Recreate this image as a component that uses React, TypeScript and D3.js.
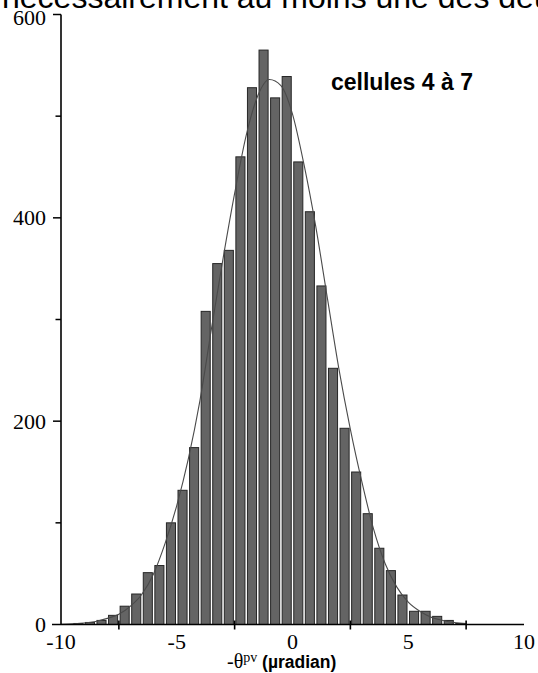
import React from 'react';
import * as d3 from 'd3';

// Histogram bins (lower edges, width 0.5 µradian) and counts
const binLo = [-9.5, -9, -8.5, -8, -7.5, -7, -6.5, -6, -5.5, -5, -4.5, -4, -3.5, -3, -2.5, -2, -1.5, -1, -0.5, 0, 0.5, 1, 1.5, 2, 2.5, 3, 3.5, 4, 4.5, 5, 5.5, 6, 6.5, 7];
const counts = [1, 2, 4, 9, 18, 30, 51, 58, 100, 132, 174, 308, 355, 368, 460, 528, 565, 518, 539, 455, 406, 333, 252, 193, 150, 109, 75, 53, 29, 13, 13, 8, 4, 1];
const binWidth = 0.5;

// Fitted curve
const fitX = [-10, -9.5, -9, -8.5, -8, -7.5, -7, -6.5, -6, -5.5, -5, -4.5, -4, -3.5, -3, -2.5, -2, -1.5, -1, -0.5, 0, 0.5, 1, 1.5, 2, 2.5, 3, 3.5, 4, 4.5, 5, 5.5, 6, 6.5, 7, 7.5];
const fitY = [0.3, 0.7, 1.4, 3, 6, 10, 18, 30, 50, 80, 117, 163, 220, 291, 360, 424, 481, 520, 536, 530, 502, 452, 392, 322, 252, 192, 140, 94, 60, 37, 22, 13, 7, 4, 2, 1];

const xLabels = [-10, -5, 0, 5, 10];
const xMinorTicks = [-7.5, -2.5, 2.5, 7.5];
const yLabels = [0, 200, 400, 600];
const yMinorTicks = [100, 300, 500];

const headerText = 'nécessairement au moins une des deux';
const panelLabel = 'cellules 4 à 7';

export default function App() {
  const W = 538, H = 673;
  const x = d3.scaleLinear().domain([-10, 10]).range([61, 524]);
  const y = d3.scaleLinear().domain([0, 600]).range([624.5, 14.5]);
  const line = d3.line<number>()
    .x((_, i) => x(fitX[i]))
    .y((d) => y(d))
    .curve(d3.curveMonotoneX);

  const serif = '"Liberation Serif", "Times New Roman", serif';
  const sans = '"Liberation Sans", Arial, sans-serif';

  return (
    <svg width={W} height={H} style={{ position: 'absolute', left: 0, top: 0, background: '#fff' }}>
      <rect x={0} y={0} width={W} height={H} fill="#fff" />
      <text x={2} y={7.5} fontFamily={sans} fontSize={32} fill="#000">{headerText}</text>

      {/* bars */}
      {binLo.map((lo, i) => {
        const x0 = x(lo), x1 = x(lo + binWidth);
        const top = y(counts[i]);
        return (
          <rect key={i} x={x0 + 1.25} y={top} width={x1 - x0 - 2.5} height={y(0) - top}
            fill="#646464" stroke="#262626" strokeWidth={1} />
        );
      })}

      {/* fitted curve */}
      <path d={line(fitY) || ''} fill="none" stroke="#4a4a4a" strokeWidth={1.1} />

      {/* axes */}
      <line x1={61} x2={61} y1={y(600)} y2={y(0)} stroke="#000" strokeWidth={1.6} />
      <line x1={52} x2={524} y1={y(0)} y2={y(0)} stroke="#000" strokeWidth={1.6} />
      {yLabels.filter(v => v > 0).map(v => (
        <line key={'ym' + v} x1={53} x2={61} y1={y(v)} y2={y(v)} stroke="#000" strokeWidth={1.5} />
      ))}
      {yMinorTicks.map(v => (
        <line key={'yn' + v} x1={55.5} x2={61} y1={y(v)} y2={y(v)} stroke="#000" strokeWidth={1.5} />
      ))}
      {xMinorTicks.map(v => (
        <line key={'xn' + v} x1={x(v)} x2={x(v)} y1={y(0) - 4} y2={y(0) + 5} stroke="#000" strokeWidth={1.6} />
      ))}
      {yLabels.map(v => (
        <text key={'yl' + v} x={46} y={y(v) + (v === 600 ? 10 : 7.5)} textAnchor="end" fontFamily={serif} fontSize={22} fill="#000">{v}</text>
      ))}
      {xLabels.map(v => (
        <text key={'xl' + v} x={x(v)} y={649} textAnchor="middle" fontFamily={serif} fontSize={22} fill="#000">{v}</text>
      ))}

      {/* axis title */}
      <text x={227} y={668} fill="#000">
        <tspan fontFamily={serif} fontSize={20}>-θ</tspan>
        <tspan fontFamily={serif} fontSize={14} dy={-6}>pv</tspan>
        <tspan fontFamily={sans} fontSize={17.5} fontWeight="bold" dy={6}> (µradian)</tspan>
      </text>

      <text x={331} y={90} fontFamily={sans} fontSize={23} fontWeight="bold" fill="#000">{panelLabel}</text>
    </svg>
  );
}
